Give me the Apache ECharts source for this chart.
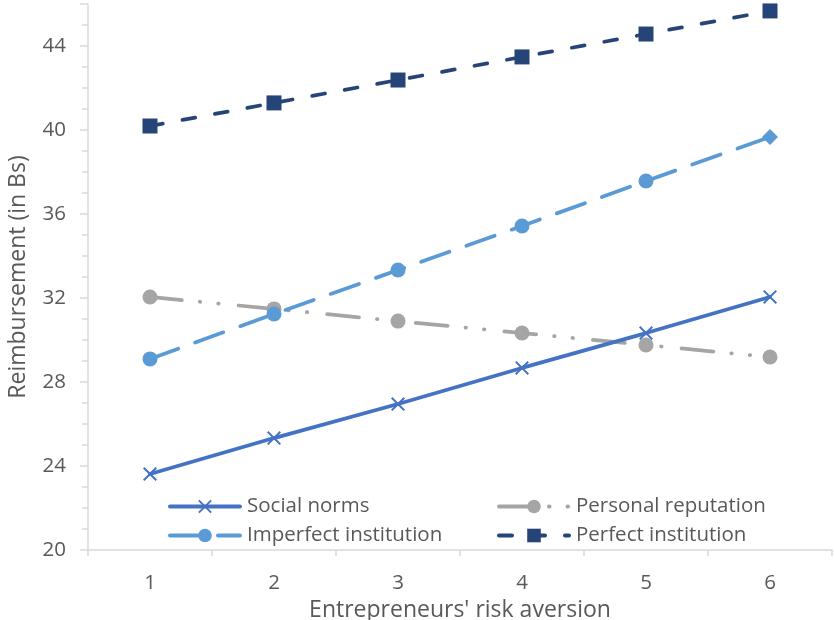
<!DOCTYPE html>
<html>
<head>
<meta charset="utf-8">
<script src="https://cdn.jsdelivr.net/npm/echarts@6/dist/echarts.min.js"></script>
<style>
  html, body { margin: 0; padding: 0; background: #fff; }
  #chart { width: 834px; height: 620px; }
</style>
</head>
<body>
<div id="chart"></div>
<script>
// Risk aversion levels (x axis categories)
const riskAversion = ['1', '2', '3', '4', '5', '6'];

// Reimbursement (in Bs) per treatment
const socialNorms = [23.62, 25.33, 26.95, 28.67, 30.33, 32.05];
const personalReputation = [32.05, 31.48, 30.9, 30.33, 29.76, 29.19];
const imperfectInstitution = [29.1, 31.24, 33.33, 35.43, 37.57, 39.67];
const perfectInstitution = [40.19, 41.29, 42.38, 43.48, 44.57, 45.67];

const FONT = 'Open Sans';
const TEXT = '#595959';
const AXIS = '#d9d9d9';

const crossPath = 'path://M1,0 L5,4 L9,0 L10,1 L6,5 L10,9 L9,10 L5,6 L1,10 L0,9 L4,5 L0,1 Z';

// the final imperfect-institution point is drawn as a diamond
const imperfectData = imperfectInstitution.map((v, i) =>
  i === imperfectInstitution.length - 1 ? { value: v, symbol: 'diamond', symbolSize: 16 } : v);

const legendStyle = {
  orient: 'vertical', itemGap: 8,
  itemWidth: 70, itemHeight: 17,
  lineStyle: { width: 4 },
  textStyle: { fontFamily: FONT, fontSize: 20.5, color: TEXT, padding: [0, 0, 0, 2] }
};

const chart = echarts.init(document.getElementById('chart'));
chart.setOption({
  animation: false,
  textStyle: { fontFamily: FONT, color: TEXT },
  grid: { left: 88, right: 2, top: 4, bottom: 70, containLabel: false, outerBoundsMode: 'none' },
  legend: [
    Object.assign({ left: 163, top: 491, data: ['Social norms', 'Imperfect institution'] }, legendStyle),
    Object.assign({ left: 492, top: 491, data: ['Personal reputation', 'Perfect institution'] }, legendStyle)
  ],
  xAxis: {
    type: 'category',
    data: riskAversion,
    boundaryGap: true,
    name: "Entrepreneurs' risk aversion",
    nameLocation: 'middle',
    nameGap: 42,
    nameTextStyle: { fontFamily: FONT, fontSize: 23, color: TEXT },
    axisLine: { lineStyle: { color: AXIS, width: 1.5 } },
    axisTick: { show: true, length: 6, alignWithLabel: false, lineStyle: { color: AXIS, width: 1.5 } },
    axisLabel: { fontFamily: FONT, fontSize: 20.5, color: TEXT, margin: 23 },
    splitLine: { show: false }
  },
  yAxis: {
    type: 'value',
    min: 20, max: 46, interval: 4,
    name: 'Reimbursement (in Bs)',
    nameLocation: 'middle',
    nameGap: 58,
    nameTextStyle: { fontFamily: FONT, fontSize: 23, color: TEXT },
    axisLine: { show: true, lineStyle: { color: AXIS, width: 1.5 } },
    axisTick: { show: true, length: 8, lineStyle: { color: AXIS, width: 1.5 } },
    minorTick: { show: true, splitNumber: 4, length: 6, lineStyle: { color: AXIS, width: 1.5 } },
    axisLabel: { fontFamily: FONT, fontSize: 20.5, color: TEXT, margin: 22, showMaxLabel: false },
    splitLine: { show: false }
  },
  series: [
    {
      name: 'Social norms', type: 'line', data: socialNorms,
      symbol: crossPath, symbolSize: 14,
      itemStyle: { color: '#4472C4' },
      lineStyle: { color: '#4472C4', width: 3.75, cap: 'round' },
      z: 4
    },
    {
      name: 'Personal reputation', type: 'line', data: personalReputation,
      symbol: 'circle', symbolSize: 15,
      itemStyle: { color: '#A5A5A5' },
      lineStyle: { color: '#A5A5A5', width: 3.75, cap: 'round', type: [32, 18, 0.5, 18, 0.5, 20] },
      z: 2
    },
    {
      name: 'Imperfect institution', type: 'line', data: imperfectData,
      symbol: 'circle', symbolSize: 15,
      itemStyle: { color: '#5B9BD5' },
      lineStyle: { color: '#5B9BD5', width: 3.75, cap: 'round', type: [30, 18] },
      z: 3
    },
    {
      name: 'Perfect institution', type: 'line', data: perfectInstitution,
      symbol: 'rect', symbolSize: 15,
      itemStyle: { color: '#264478' },
      lineStyle: { color: '#264478', width: 3.75, cap: 'round', type: [13, 20] },
      z: 3
    }
  ]
});
</script>
</body>
</html>
